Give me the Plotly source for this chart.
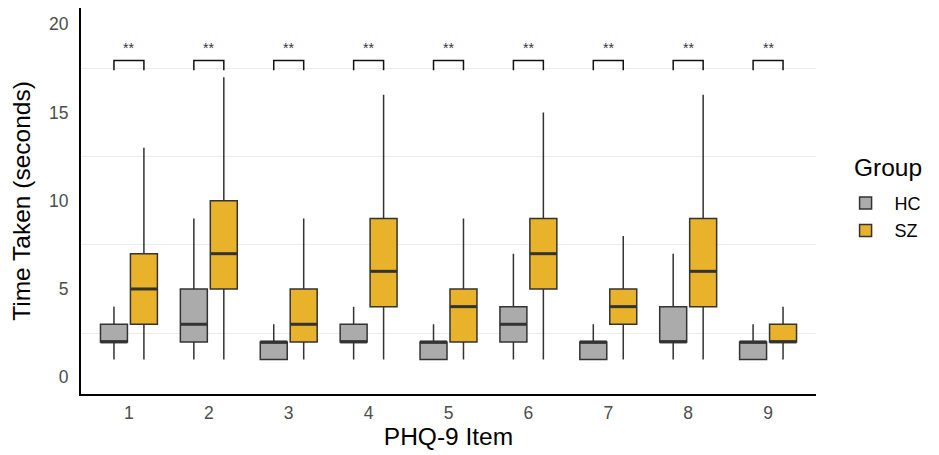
import plotly.graph_objects as go

items = [1, 2, 3, 4, 5, 6, 7, 8, 9]
tick_labels = ["1", "2", "3", "4", "5", "6", "7", "8", "9"]

hc_low = [1, 1, 1, 1, 1, 1, 1, 1, 1]
hc_q1 = [2, 2, 1, 2, 1, 2, 1, 2, 1]
hc_med = [2, 3, 2, 2, 2, 3, 2, 2, 2]
hc_q3 = [3, 5, 2, 3, 2, 4, 2, 4, 2]
hc_high = [4, 9, 3, 4, 3, 7, 3, 7, 3]

sz_low = [1, 1, 1, 1, 1, 1, 1, 1, 1]
sz_q1 = [3, 5, 2, 4, 2, 5, 3, 4, 2]
sz_med = [5, 7, 3, 6, 4, 7, 4, 6, 2]
sz_q3 = [7, 10, 5, 9, 5, 9, 5, 9, 3]
sz_high = [13, 17, 9, 16, 9, 15, 8, 16, 4]

sig_labels = ["**"] * 9

HC_COL = "#ABABAB"
SZ_COL = "#E8B22A"
EDGE = "#333333"
FONT = "Liberation Sans, Arial, sans-serif"

BOXGAP = 0.25
GROUPGAP = 0.1
off = (1 - BOXGAP) / 4
half_w = (1 - BOXGAP) / 2 * (1 - GROUPGAP) / 2

fig = go.Figure()
for name, col, lo, q1, md, q3, hi in [
    ("HC", HC_COL, hc_low, hc_q1, hc_med, hc_q3, hc_high),
    ("SZ", SZ_COL, sz_low, sz_q1, sz_med, sz_q3, sz_high),
]:
    fig.add_trace(go.Box(
        name=name, legendgroup=name, x=items, q1=q1, median=md, q3=q3,
        lowerfence=lo, upperfence=hi,
        fillcolor=col, line=dict(color=EDGE, width=1.5),
        whiskerwidth=0, boxpoints=False, opacity=1,
        hoverinfo="skip",
    ))

# thick median lines (ggplot style)
for sign, md in [(-1, hc_med), (1, sz_med)]:
    xs, ys = [], []
    for i, m in zip(items, md):
        c = i + sign * off
        xs += [c - half_w, c + half_w, None]
        ys += [m, m, None]
    fig.add_trace(go.Scatter(x=xs, y=ys, mode="lines",
                             line=dict(color=EDGE, width=3),
                             showlegend=False, hoverinfo="skip"))

# significance brackets
br_top = 17.95
br_bot = 17.39
for i, lab in zip(items, sig_labels):
    x0, x1 = i - off, i + off
    fig.add_shape(type="path",
                  path=f"M {x0},{br_bot} L {x0},{br_top} L {x1},{br_top} L {x1},{br_bot}",
                  line=dict(color="#111111", width=1.5), xref="x", yref="y")
    fig.add_annotation(x=i, y=18.66, text=lab, showarrow=False,
                       font=dict(size=14, color="#333333", family=FONT))

# legend title as a separate text
fig.add_annotation(x=1.049, y=0.588, xref="paper", yref="paper",
                   xanchor="left", yanchor="middle", showarrow=False,
                   text="Group", font=dict(size=24.5, color="#000000", family=FONT))

# page has an 8px body margin, so the figure is shrunk by 8px
fig.update_layout(
    width=931, height=447,
    margin=dict(l=73, r=123, t=0, b=61, autoexpand=False),
    paper_bgcolor="white", plot_bgcolor="white",
    boxmode="group", boxgap=BOXGAP, boxgroupgap=GROUPGAP,
    font=dict(family=FONT, color="#000000"),
    legend=dict(
        font=dict(size=18, color="#000000"),
        x=1.028, y=0.542, xanchor="left", yanchor="top",
        bgcolor="rgba(0,0,0,0)", tracegroupgap=1, traceorder="grouped",
        itemwidth=48,
    ),
    xaxis=dict(
        range=[0.4, 9.6], tickvals=items, ticktext=tick_labels,
        showgrid=False, zeroline=False, automargin=False,
        showline=True, linecolor="#000000", linewidth=2,
        ticks="", ticklabelstandoff=2, tickfont=dict(size=17.5, color="#4D4D4D"),
        title=dict(text="PHQ-9 Item", font=dict(size=24.5, color="#000000"), standoff=4),
    ),
    yaxis=dict(
        range=[-0.95, 20.92], tickvals=[0, 5, 10, 15, 20],
        showgrid=False, zeroline=False, automargin=False,
        showline=True, linecolor="#000000", linewidth=2,
        ticks="", ticklabelstandoff=7, tickfont=dict(size=17.5, color="#4D4D4D"),
        title=dict(text="Time Taken (seconds)", font=dict(size=24.5, color="#000000"), standoff=15),
        minor=dict(tickvals=[2.5, 7.5, 12.5, 17.5], showgrid=True,
                   gridcolor="#EBEBEB", gridwidth=1, ticks=""),
    ),
)

fig.write_html("out.html")
